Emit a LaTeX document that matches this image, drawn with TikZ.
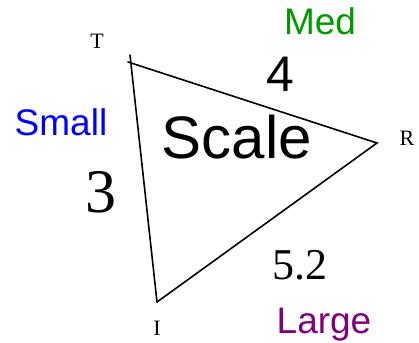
\documentclass[tikz,border=0pt]{standalone}
\usepackage{fontspec}
\setmainfont{Liberation Serif}
\setsansfont{Liberation Sans}
\newfontfamily\timesf{Liberation Serif}
\newfontfamily\arialf{Liberation Sans}
\definecolor{medgreen}{RGB}{0,153,0}
\definecolor{largepurple}{RGB}{128,0,128}
\begin{document}
\begin{tikzpicture}[x=1pt,y=-1pt,
  lbl/.style={inner sep=0pt,anchor=base},
  vtx/.style={lbl,font=\timesf\fontsize{22}{24}\selectfont},
  word/.style={lbl,font=\arialf\fontsize{37}{40}\selectfont},
  edge/.style={line width=1.6pt,line cap=round,line join=miter}]
\useasboundingbox (0,0) rectangle (419,342);
\coordinate (T) at (128,62);
\coordinate (Ttop) at (130,55);
\coordinate (R) at (377,143);
\coordinate (I) at (157,302);
\draw[edge] (T) -- (R) -- (I);
\draw[edge] (Ttop) -- (I);
\node[vtx] (tT) at (97,49) {T};
\node[vtx] (tR) at (407,145) {R};
\node[vtx] (tI) at (157,335) {I};
\node[word,text=medgreen] (med) at (320,35) {Med};
\node[word,text=blue] (small) at (61,135) {Small};
\node[word,text=largepurple] (large) at (324,333) {Large};
\node[lbl,font=\arialf\fontsize{50}{54}\selectfont] (four) at (280,92) {4};
\node[lbl,font=\arialf\fontsize{60}{64}\selectfont] (scale) at (237,158) {Scale};
\node[lbl,font=\timesf\fontsize{62}{66}\selectfont] (three) at (101,212) {3};
\node[lbl,font=\timesf\fontsize{44}{47}\selectfont] (five) at (300,279) {5.2};
\end{tikzpicture}
\end{document}
